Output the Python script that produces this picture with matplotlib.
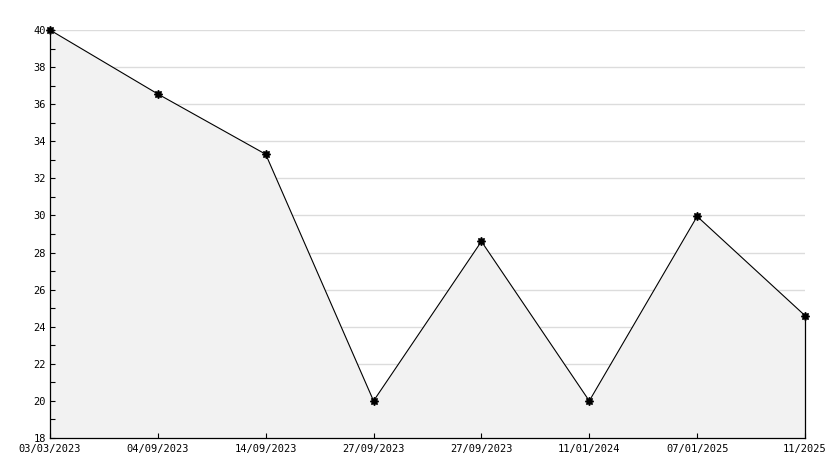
import matplotlib
matplotlib.use('Agg')
import matplotlib.pyplot as plt
from matplotlib.ticker import MultipleLocator

dates = ['03/03/2023', '04/09/2023', '14/09/2023', '27/09/2023',
         '27/09/2023', '11/01/2024', '07/01/2025', '11/2025']
values = [40.0, 36.55, 33.3, 20.0, 28.6, 20.0, 29.95, 24.6]

y_min, y_max = 18, 40

fig = plt.figure(figsize=(8.34, 4.68), dpi=100)
ax = fig.add_axes([50 / 834, 30 / 468, 755 / 834, 408 / 468])

xs = list(range(len(values)))

# shaded area under the line
ax.fill_between(xs, values, y_min, color='#f2f2f2', linewidth=0, zorder=1)
ax.plot([xs[-1], xs[-1]], [y_min, values[-1]], color='black', lw=0.9,
        zorder=2, clip_on=False)
ax.plot(xs, values, color='black', lw=0.8, marker=(8, 1, 0), markersize=6,
        zorder=3, clip_on=False)

ax.set_xlim(xs[0], xs[-1])
ax.set_ylim(y_min, y_max)

ax.set_xticks(xs)
ax.set_xticklabels(dates)
ax.yaxis.set_major_locator(MultipleLocator(2))
ax.yaxis.set_minor_locator(MultipleLocator(1))

for t in ax.get_yticks():
    if y_min < t <= y_max:
        ax.axhline(t, color='#dcdcdc', lw=1, zorder=0.5)

ax.tick_params(axis='both', which='both', direction='in', length=3.6,
               width=0.8, color='black', labelsize=7.5, pad=3)
ax.tick_params(axis='x', pad=4)

for lab in ax.get_xticklabels() + ax.get_yticklabels():
    lab.set_family('DejaVu Sans Mono')

ax.spines['top'].set_visible(False)
ax.spines['right'].set_visible(False)
ax.spines['left'].set_linewidth(0.9)
ax.spines['bottom'].set_linewidth(0.9)
ax.set_facecolor('white')

fig.savefig('out.png', dpi=100)
